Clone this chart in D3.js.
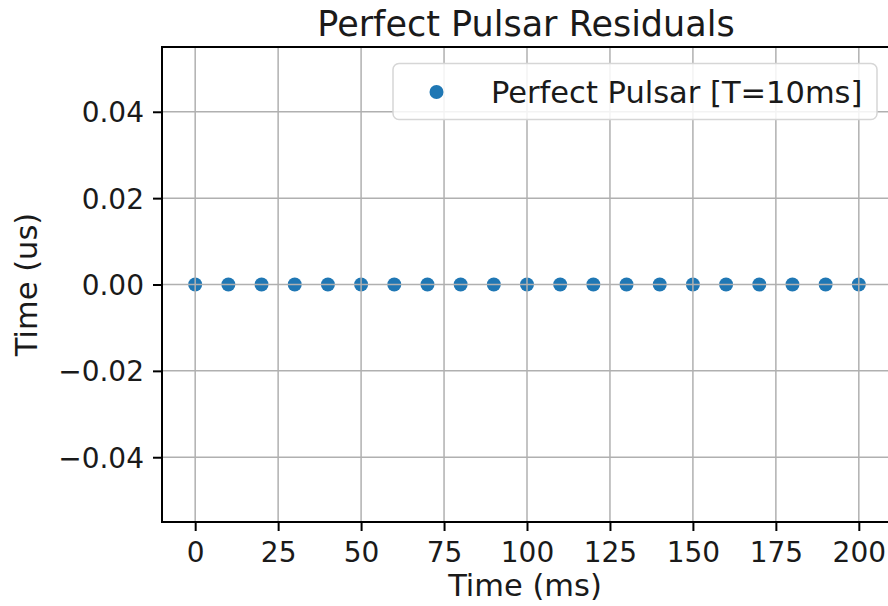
<!DOCTYPE html>
<html>
<head>
<meta charset="utf-8">
<script src="https://cdn.jsdelivr.net/npm/d3@7"></script>
<style>
  html, body { margin: 0; padding: 0; background: #fff; }
  svg { display: block; font-family: "DejaVu Sans", sans-serif; }
</style>
</head>
<body>
<svg id="chart" width="888" height="606"></svg>
<script>
// Pulse arrival times (ms) and their timing residuals (us)
const pulseTimes = [0, 10, 20, 30, 40, 50, 60, 70, 80, 90, 100, 110, 120, 130, 140, 150, 160, 170, 180, 190, 200];
const residuals  = [0, 0, 0, 0, 0, 0, 0, 0, 0, 0, 0, 0, 0, 0, 0, 0, 0, 0, 0, 0, 0];
const xTicks = [0, 25, 50, 75, 100, 125, 150, 175, 200];
const yTicks = [-0.04, -0.02, 0.00, 0.02, 0.04];
const seriesLabel = "Perfect Pulsar [T=10ms]";
const titleText = "Perfect Pulsar Residuals";
const xLabelText = "Time (ms)";
const yLabelText = "Time (us)";

const svg = d3.select("#chart");
const plot = { left: 162, right: 892, top: 47, bottom: 522 };
const blue = "#1f77b4";
const tickFs = 28, labelFs = 30.5, titleFs = 35;

const x = d3.scaleLinear().domain([-10, 210]).range([plot.left, plot.right]);
const y = d3.scaleLinear().domain([-0.055, 0.055]).range([plot.bottom, plot.top]);

// markers
svg.append("g")
  .selectAll("circle")
  .data(pulseTimes.map((t, i) => ({ t, r: residuals[i] })))
  .join("circle")
  .attr("cx", d => x(d.t))
  .attr("cy", d => y(d.r))
  .attr("r", 7)
  .attr("fill", blue);

// grid (drawn above markers)
const grid = svg.append("g").attr("stroke", "#b0b0b0").attr("stroke-width", 1.5);
grid.selectAll("line.gx").data(xTicks).join("line")
  .attr("x1", d => x(d)).attr("x2", d => x(d))
  .attr("y1", plot.top).attr("y2", plot.bottom);
grid.selectAll("line.gy").data(yTicks).join("line")
  .attr("y1", d => y(d)).attr("y2", d => y(d))
  .attr("x1", plot.left).attr("x2", plot.right);

// axes
const xAxis = svg.append("g")
  .attr("transform", `translate(0,${plot.bottom})`)
  .call(d3.axisBottom(x).tickValues(xTicks).tickFormat(d3.format("d")).tickSize(9).tickPadding(8));
const yAxis = svg.append("g")
  .attr("transform", `translate(${plot.left},0)`)
  .call(d3.axisLeft(y).tickValues(yTicks).tickFormat(d3.format(".2f")).tickSize(9).tickPadding(9));

[xAxis, yAxis].forEach(a => {
  a.select(".domain").remove();
  a.selectAll(".tick line").attr("stroke", "#000").attr("stroke-width", 2);
  a.selectAll(".tick text").attr("fill", "#1a1a1a").style("font-size", tickFs + "px")
    .style("font-family", "DejaVu Sans");
});
xAxis.selectAll(".tick text").attr("dy", "23px");
yAxis.selectAll(".tick text").attr("dy", "10px");

// spines
svg.append("rect")
  .attr("x", plot.left).attr("y", plot.top)
  .attr("width", plot.right - plot.left).attr("height", plot.bottom - plot.top)
  .attr("fill", "none").attr("stroke", "#000").attr("stroke-width", 2);

// legend
const leg = svg.append("g");
leg.append("rect")
  .attr("x", 393).attr("y", 63.5).attr("width", 484).attr("height", 56)
  .attr("rx", 6).attr("ry", 6)
  .attr("fill", "#fff").attr("fill-opacity", 0.85)
  .attr("stroke", "#d6d6d6").attr("stroke-width", 1.5);
leg.append("circle").attr("cx", 436.5).attr("cy", 92).attr("r", 7).attr("fill", blue);
leg.append("text").attr("x", 491).attr("y", 103)
  .style("font-size", labelFs + "px").attr("fill", "#1a1a1a").text(seriesLabel);

// title and axis labels
svg.append("text").attr("x", 526).attr("y", 36)
  .attr("text-anchor", "middle").style("font-size", titleFs + "px").attr("fill", "#1a1a1a").text(titleText);
svg.append("text").attr("x", 525).attr("y", 596)
  .attr("text-anchor", "middle").style("font-size", labelFs + "px").attr("fill", "#1a1a1a").text(xLabelText);
svg.append("text")
  .attr("transform", `translate(37,${(plot.top + plot.bottom) / 2}) rotate(-90)`)
  .attr("text-anchor", "middle").style("font-size", labelFs + "px").attr("fill", "#1a1a1a").text(yLabelText);
</script>
</body>
</html>
